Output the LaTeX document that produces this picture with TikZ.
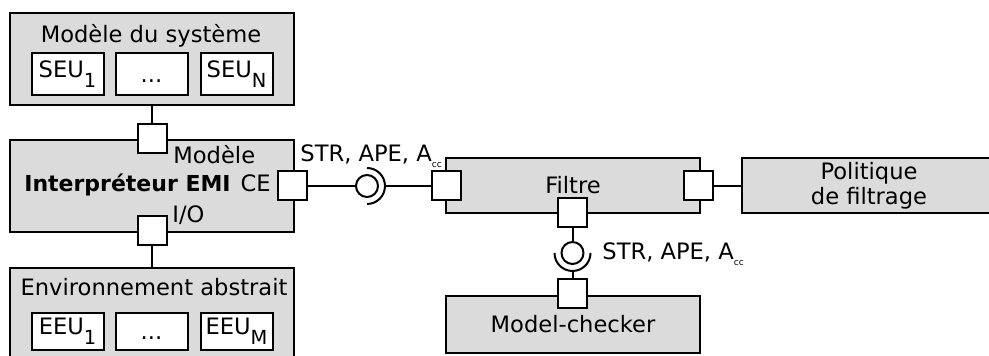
\documentclass[tikz,border=0pt]{standalone}
\usepackage{fontspec}
\setmainfont{DejaVu Sans}
\definecolor{fond}{gray}{0.86}
\newcommand{\idx}[1]{\raisebox{-5pt}{\fontsize{9.7}{10}\selectfont #1}}
\newcommand{\acc}{A\raisebox{-3pt}{\fontsize{4.5}{5}\selectfont cc}}
\tikzset{
  boite/.style={draw, fill=fond, line width=1pt, inner sep=0pt},
  souboite/.style={draw, fill=white, line width=1pt, inner sep=0pt, minimum width=36pt},
  port/.style={draw, fill=white, line width=1pt, minimum size=14.5pt, inner sep=0pt},
  boule/.style={circle, draw, fill=white, line width=1pt, minimum size=11pt, inner sep=0pt},
  lien/.style={line width=1pt},
  etiq/.style={inner sep=0pt},
}

\begin{document}
\begin{tikzpicture}[x=0.5pt, y=-0.5pt, every node/.style={font=\fontsize{11.3}{12.5}\selectfont}]
  \useasboundingbox (0,0) rectangle (989,356);
  \clip (0,0) rectangle (989,356);

  % blocs
  \node [boite, minimum width=142pt, minimum height=46pt] (sys) at (152,59) {};
  \node [boite, minimum width=142pt, minimum height=46pt] (interp) at (152,186) {};
  \node [boite, minimum width=142pt, minimum height=46pt] (env) at (152,314) {};
  \node [boite, minimum width=127pt, minimum height=27.5pt] (filtre) at (573,185.5) {Filtre};
  \node [boite, minimum width=127pt, minimum height=27.5pt, align=center] (pol) at (869,185.5) {Politique\\de filtrage};
  \node [boite, minimum width=127pt, minimum height=28.5pt] (mc) at (573,324.5) {Model-checker};

  % titres
  \node [etiq, anchor=base] (tsys) at (151,43) {Modèle du système};
  \node [etiq, anchor=base, font=\fontsize{11}{12.5}\selectfont\bfseries] (tint) at (127.5,192) {Interpréteur EMI};
  \node [etiq, anchor=base] (tenv) at (154,296) {Environnement abstrait};

  % sous-blocs
  \node [souboite, minimum height=21pt] (seu1) at (67.5,74) {SEU\idx{1}};
  \node [souboite, minimum height=21pt] (seud) at (151.5,74) {\vphantom{S}...};
  \node [souboite, minimum height=21pt] (seun) at (236.5,74) {SEU\idx{N}};
  \node [souboite, minimum height=18.5pt] (eeu1) at (67.5,331.5) {EEU\idx{1}};
  \node [souboite, minimum height=18.5pt] (eeud) at (151.5,331.5) {\vphantom{E}...};
  \node [souboite, minimum height=18.5pt] (eeum) at (236.5,331.5) {EEU\idx{M}};

  % ports
  \node [port] (pmod) at (152,139) {};
  \node [port] (pce) at (292,186) {};
  \node [port] (pio) at (152,231) {};
  \node [port] (pfg) at (446,186) {};
  \node [port] (pfd) at (698,186) {};
  \node [port] (pfb) at (572.5,212.5) {};
  \node [port] (pmc) at (572.5,294) {};

  % noms des ports
  \node [etiq, anchor=base west] (lmod) at (173,164) {Modèle};
  \node [etiq, anchor=base east] (lce) at (271,192) {CE};
  \node [etiq, anchor=base west] (lio) at (172,223) {I/O};
  \node [etiq, anchor=base west] (lh) at (300,162) {STR, APE, \acc};
  \node [etiq, anchor=base west] (lb) at (602,260) {STR, APE, \acc};

  % interfaces
  \node [boule] (b1) at (367,186) {};
  \draw [lien] (b1.center) ++(0,-18) arc [start angle=90, end angle=-90, radius=9pt];
  \coordinate (a1) at ([xshift=9pt]b1.center);
  \node [boule] (b2) at (572.5,253) {};
  \draw [lien] (b2.center) ++(-18,0) arc [start angle=180, end angle=360, radius=9pt];
  \coordinate (a2) at ([yshift=-9pt]b2.center);

  % liens
  \draw [lien] (sys.south) -- (pmod.north);
  \draw [lien] (pio.south) -- (env.north);
  \draw [lien] (pce.east) -- (b1.west);
  \draw [lien] (a1) -- (pfg.west);
  \draw [lien] (pfd.east) -- (pfd.east -| pol.west);
  \draw [lien] (pfb.south) -- (b2.north);
  \draw [lien] (a2) -- (pmc.north);
\end{tikzpicture}
\end{document}
